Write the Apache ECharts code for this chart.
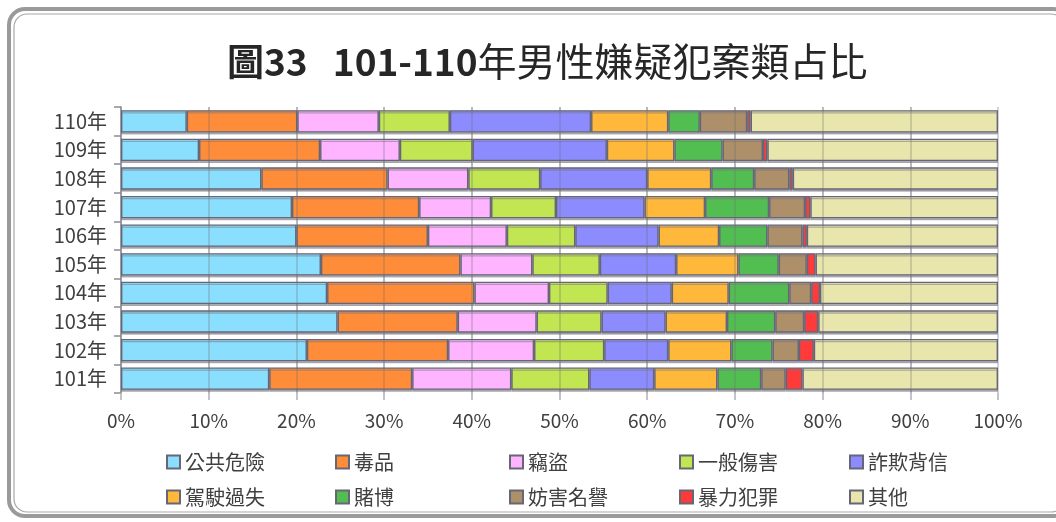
<!DOCTYPE html>
<html>
<head>
<meta charset="utf-8">
<script src="https://cdn.jsdelivr.net/npm/echarts@6/dist/echarts.min.js"></script>
<style>
  html, body { margin: 0; padding: 0; background: #fff; }
  #chart { width: 1056px; height: 522px; }
</style>
</head>
<body>
<div id="chart"></div>
<script>
// Years, bottom to top (101年 at the bottom of the chart)
const years = ['101年', '102年', '103年', '104年', '105年', '106年', '107年', '108年', '109年', '110年'];

// Share (%) of each offence type per year, same order as years
const publicDanger = [16.9, 21.2, 24.7, 23.5, 22.8, 20.0, 19.5, 16.0, 8.9, 7.5];
const drugs        = [16.3, 16.1, 13.7, 16.8, 15.9, 15.0, 14.5, 14.4, 13.8, 12.6];
const theft        = [11.3, 9.8, 9.0, 8.5, 8.2, 9.0, 8.2, 9.2, 9.1, 9.3];
const injury       = [8.9, 8.0, 7.4, 6.7, 7.7, 7.8, 7.4, 8.2, 8.3, 8.1];
const fraud        = [7.4, 7.3, 7.3, 7.3, 8.7, 9.5, 10.1, 12.2, 15.3, 16.1];
const driving      = [7.2, 7.2, 7.0, 6.5, 7.1, 6.9, 6.9, 7.3, 7.7, 8.8];
const gambling     = [5.0, 4.7, 5.5, 6.9, 4.6, 5.5, 7.3, 4.9, 5.5, 3.6];
const defamation   = [2.8, 3.0, 3.3, 2.5, 3.2, 4.0, 4.1, 4.0, 4.6, 5.4];
const violent      = [1.9, 1.7, 1.6, 1.0, 1.0, 0.5, 0.6, 0.4, 0.5, 0.4];
const others       = [22.3, 21.0, 20.5, 20.3, 20.8, 21.8, 21.4, 23.4, 26.3, 28.2];

const seriesNames = ['公共危險', '毒品', '竊盜', '一般傷害', '詐欺背信', '駕駛過失', '賭博', '妨害名譽', '暴力犯罪', '其他'];
const seriesData  = [publicDanger, drugs, theft, injury, fraud, driving, gambling, defamation, violent, others];
const colors = ['#8ADFFE', '#FF8C38', '#FFB4FF', '#C2E652', '#8C8CFF', '#FFB83A', '#52BE52', '#AD8F69', '#FF3A3A', '#E8E6AC'];

const xTicks = [0, 10, 20, 30, 40, 50, 60, 70, 80, 90, 100];

const FONT = '"Noto Sans CJK TC", "Noto Sans", sans-serif';

const chart = echarts.init(document.getElementById('chart'), null, { renderer: 'canvas' });

const series = seriesNames.map((name, i) => {
  const s = {
    name: name,
    type: 'bar',
    stack: 'total',
    barCategoryGap: '22%',
    data: seriesData[i],
    itemStyle: {
      color: colors[i],
      borderColor: '#666677',
      borderWidth: 1.3,
      shadowColor: 'rgba(120,120,130,0.55)',
      shadowOffsetY: 2
    },
    emphasis: { disabled: true }
  };
  if (i === seriesNames.length - 1) {
    // vertical guide lines drawn over the bars
    s.markLine = {
      silent: true,
      symbol: ['none', 'none'],
      label: { show: false },
      lineStyle: { color: 'rgba(110,110,110,0.35)', width: 1.5, type: 'solid' },
      data: xTicks.slice(1, -1).map(v => ({ xAxis: v }))
    };
  }
  return s;
});

// Legend: five columns, two rows each
const legendColumnsX = [166, 335, 509, 679, 849];
const legends = legendColumnsX.map((x, c) => ({
  data: [seriesNames[c], seriesNames[c + 5]],
  orient: 'vertical',
  left: x,
  top: 452,
  padding: 0,
  itemWidth: 13,
  itemHeight: 13,
  itemGap: 15,
  icon: 'rect',
  textStyle: { fontFamily: FONT, fontSize: 20, color: '#404040' }
}));

const option = {
  animation: false,
  backgroundColor: '#ffffff',
  color: colors,
  title: {
    text: '{b|圖33   101-110}{n|年男性嫌疑犯案類占比}',
    left: 222,
    top: 37,
    textStyle: {
      rich: {
        b: { fontFamily: FONT, fontSize: 37, fontWeight: 'bold', color: '#262626' },
        n: { fontFamily: FONT, fontSize: 39, fontWeight: 'normal', color: '#262626' }
      }
    }
  },
  graphic: [
    {
      type: 'rect',
      shape: { x: 9, y: 9, width: 1060, height: 507, r: 16 },
      style: { fill: 'none', stroke: '#9a9a9a', lineWidth: 4 },
      silent: true
    },
    {
      type: 'rect',
      shape: { x: 14, y: 14, width: 1050, height: 498, r: 13 },
      style: { fill: 'none', stroke: '#a8a8a8', lineWidth: 1.2 },
      silent: true
    }
  ],
  grid: { left: 121, right: 58, top: 107, bottom: 129, containLabel: false },
  xAxis: {
    type: 'value',
    min: 0,
    max: 100,
    interval: 10,
    axisLine: { show: false },
    axisTick: { show: true, length: 7, lineStyle: { color: '#b0b0b8', width: 1.5 } },
    splitLine: { show: true, lineStyle: { color: '#c4c4cc', width: 1.5 } },
    axisLabel: {
      formatter: '{value}%',
      fontFamily: FONT,
      fontSize: 19,
      color: '#404040',
      margin: 18
    }
  },
  yAxis: {
    type: 'category',
    data: years,
    axisLine: { show: true, lineStyle: { color: '#8a8a92', width: 1.5 } },
    axisTick: { show: true, length: 7, inside: false, lineStyle: { color: '#8a8a92', width: 1.5 } },
    axisLabel: { fontFamily: FONT, fontSize: 20, color: '#404040', margin: 14 },
    splitLine: { show: false }
  },
  legend: legends,
  series: series
};

chart.setOption(option);
</script>
</body>
</html>
